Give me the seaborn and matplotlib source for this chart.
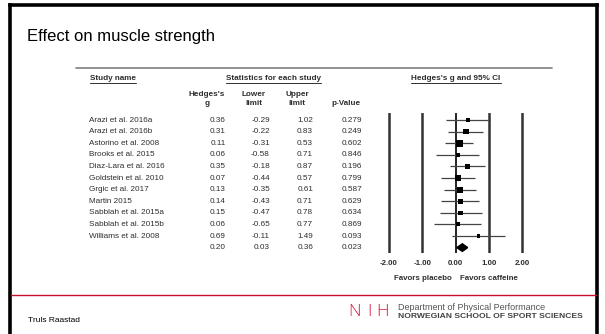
import matplotlib
matplotlib.use("Agg")
import matplotlib.pyplot as plt
import matplotlib.transforms as mtransforms
from matplotlib.lines import Line2D
import numpy as np
import pandas as pd
import seaborn as sns

# ---- data ---------------------------------------------------------------
studies = ["Arazi et al. 2016a", "Arazi et al. 2016b", "Astorino et al. 2008",
           "Brooks et al. 2015", "Diaz-Lara et al. 2016", "Goldstein et al. 2010",
           "Grgic et al. 2017", "Martin 2015", "Sabblah et al. 2015a",
           "Sabblah et al. 2015b", "Williams et al. 2008"]
hedges_g = [0.36, 0.31, 0.11, 0.06, 0.35, 0.07, 0.13, 0.14, 0.15, 0.06, 0.69]
lower_limit = [-0.29, -0.22, -0.31, -0.58, -0.18, -0.44, -0.35, -0.43, -0.47, -0.65, -0.11]
upper_limit = [1.02, 0.83, 0.53, 0.71, 0.87, 0.57, 0.61, 0.71, 0.78, 0.77, 1.49]
p_values = [0.279, 0.249, 0.602, 0.846, 0.196, 0.799, 0.587, 0.629, 0.634, 0.869, 0.093]

summary_g = 0.20
summary_lower = 0.03
summary_upper = 0.36
summary_p = 0.023

axis_ticks = [-2, -1, 0, 1, 2]
axis_labels = ["-2.00", "-1.00", "0.00", "1.00", "2.00"]

# ---- style --------------------------------------------------------------
sns.set_theme(style="white")
plt.rcParams["font.family"] = ["Liberation Sans", "DejaVu Sans"]

W, H = 605, 334
fig = plt.figure(figsize=(W / 100, H / 100), dpi=100)
fig.patch.set_facecolor("white")


def fx(px):
    return px / W


def fy(py):
    return 1 - py / H


TXT = "#2e2e2e"
FS = 5.9

# slide frame (open at the bottom)
frame_kw = dict(color="black", linewidth=2.6, transform=fig.transFigure, solid_capstyle="projecting")
fig.add_artist(Line2D([fx(10), fx(10)], [fy(5), 0], **frame_kw))
fig.add_artist(Line2D([fx(597), fx(597)], [fy(5), 0], **frame_kw))
fig.add_artist(Line2D([fx(10), fx(597)], [fy(5), fy(5)], **frame_kw))

# slide title
fig.text(fx(27), fy(36), "Effect on muscle strength", fontsize=12, color="black",
         ha="left", va="center")

# grey rule above the table
fig.add_artist(Line2D([fx(76), fx(552)], [fy(68), fy(68)], color="#8a8a8a",
                      linewidth=1.3, transform=fig.transFigure))

# ---- forest plot axes ---------------------------------------------------
x0_px, unit_px = 455.7, 33.3
ax_l, ax_r, ax_t, ax_b = 370, 545, 113, 253
ax = fig.add_axes([fx(ax_l), fy(ax_b), fx(ax_r - ax_l), (ax_b - ax_t) / H])
ax.set_xlim((ax_l - x0_px) / unit_px, (ax_r - x0_px) / unit_px)
row0_px, row_px = 120, 11.6
ax.set_ylim((ax_b - row0_px) / row_px, (ax_t - row0_px) / row_px)
for s in ax.spines.values():
    s.set_visible(False)
ax.set_facecolor("none")

rows = np.arange(len(studies))
summary_row = len(studies)

for t in axis_ticks:
    ax.axvline(t, color="#333333" if t != 0 else "#111111",
               linewidth=1.8 if t != 0 else 1.3, zorder=1)

# confidence intervals
ax.hlines(rows, lower_limit, upper_limit, color="#444444", linewidth=0.9, zorder=2)

# point estimates, square area proportional to inverse-variance weight
se = (np.array(upper_limit) - np.array(lower_limit)) / 3.92
weight = 1 / se ** 2
df = pd.DataFrame({"g": hedges_g, "row": rows, "w": weight})
wmax = weight.max()
sns.scatterplot(data=df, x="g", y="row", size="w", size_norm=(0, wmax),
                sizes=(0, 1.05 * wmax), marker="s", color="black",
                edgecolor="black", linewidth=0, legend=False, ax=ax, zorder=3)

# pooled estimate diamond
dh = 0.33
ax.fill([summary_lower, summary_g, summary_upper, summary_g],
        [summary_row, summary_row - dh, summary_row, summary_row + dh],
        color="black", zorder=3)

ax.set_xticks(axis_ticks)
ax.set_xticklabels(axis_labels, fontsize=5.7, fontweight="bold", color=TXT)
ax.tick_params(axis="x", length=0, pad=5)
ax.set_yticks([])
ax.set_xlabel("")
ax.set_ylabel("")

# ---- table text ---------------------------------------------------------
tr = mtransforms.blended_transform_factory(fig.transFigure, ax.transData)
for i, name in enumerate(studies):
    fig.text(fx(89), i, name, transform=tr, fontsize=FS, color=TXT, ha="left", va="center")
    fig.text(fx(226), i, f"{hedges_g[i]:.2f}", transform=tr, fontsize=FS, color=TXT, ha="right", va="center")
    fig.text(fx(270), i, f"{lower_limit[i]:.2f}", transform=tr, fontsize=FS, color=TXT, ha="right", va="center")
    fig.text(fx(313), i, f"{upper_limit[i]:.2f}", transform=tr, fontsize=FS, color=TXT, ha="right", va="center")
    fig.text(fx(362), i, f"{p_values[i]:.3f}", transform=tr, fontsize=FS, color=TXT, ha="right", va="center")

fig.text(fx(226), summary_row, f"{summary_g:.2f}", transform=tr, fontsize=FS, color=TXT, ha="right", va="center")
fig.text(fx(270), summary_row, f"{summary_lower:.2f}", transform=tr, fontsize=FS, color=TXT, ha="right", va="center")
fig.text(fx(313), summary_row, f"{summary_upper:.2f}", transform=tr, fontsize=FS, color=TXT, ha="right", va="center")
fig.text(fx(362), summary_row, f"{summary_p:.3f}", transform=tr, fontsize=FS, color=TXT, ha="right", va="center")

# group headers (bold, underlined)
def underlined(xc, y, text, ha):
    t = fig.text(fx(xc), fy(y), text, fontsize=FS, fontweight="bold", color=TXT, ha=ha, va="center")
    fig.canvas.draw()
    bb = t.get_window_extent()
    yline = bb.y0 - 0.6
    fig.add_artist(Line2D([bb.x0, bb.x1], [yline, yline], color=TXT, linewidth=0.7,
                          transform=None))

underlined(90, 79, "Study name", "left")
underlined(273.5, 79, "Statistics for each study", "center")
underlined(456, 79, "Hedges's g and 95% CI", "center")

hdr = dict(fontsize=FS, fontweight="bold", color=TXT, ha="center", va="center", linespacing=1.35)
fig.text(fx(207), fy(99), "Hedges's\ng", **hdr)
fig.text(fx(254), fy(99), "Lower\nlimit", **hdr)
fig.text(fx(297), fy(99), "Upper\nlimit", **hdr)
fig.text(fx(346), fy(103.5), "p-Value", **hdr)

# direction captions under the axis
fig.text(fx(423), fy(279), "Favors placebo", fontsize=5.7, fontweight="bold", color=TXT, ha="center", va="center")
fig.text(fx(489), fy(279), "Favors caffeine", fontsize=5.7, fontweight="bold", color=TXT, ha="center", va="center")

# ---- footer -------------------------------------------------------------
fig.add_artist(Line2D([fx(11), fx(596)], [fy(295), fy(295)], color="#c8102e",
                      linewidth=1.0, transform=fig.transFigure))
fig.text(fx(28), fy(321), "Truls Raastad", fontsize=6, color="black", ha="left", va="center")

nih_red = "#d9183b"
for ch, xc in zip("NIH", [354, 369, 383]):
    fig.text(fx(xc), fy(312.5), ch, fontsize=12.5, color=nih_red, ha="center",
             va="center", fontweight="light", family=["Open Sans", "DejaVu Sans"])
fig.text(fx(398), fy(307.5), "Department of Physical Performance", fontsize=6.5,
         color="#555555", ha="left", va="center")
fig.text(fx(398), fy(317), "NORWEGIAN SCHOOL OF SPORT SCIENCES", fontsize=6.1,
         color="#444444", ha="left", va="center", fontweight="bold")

fig.savefig("out.png", dpi=100, facecolor="white")
